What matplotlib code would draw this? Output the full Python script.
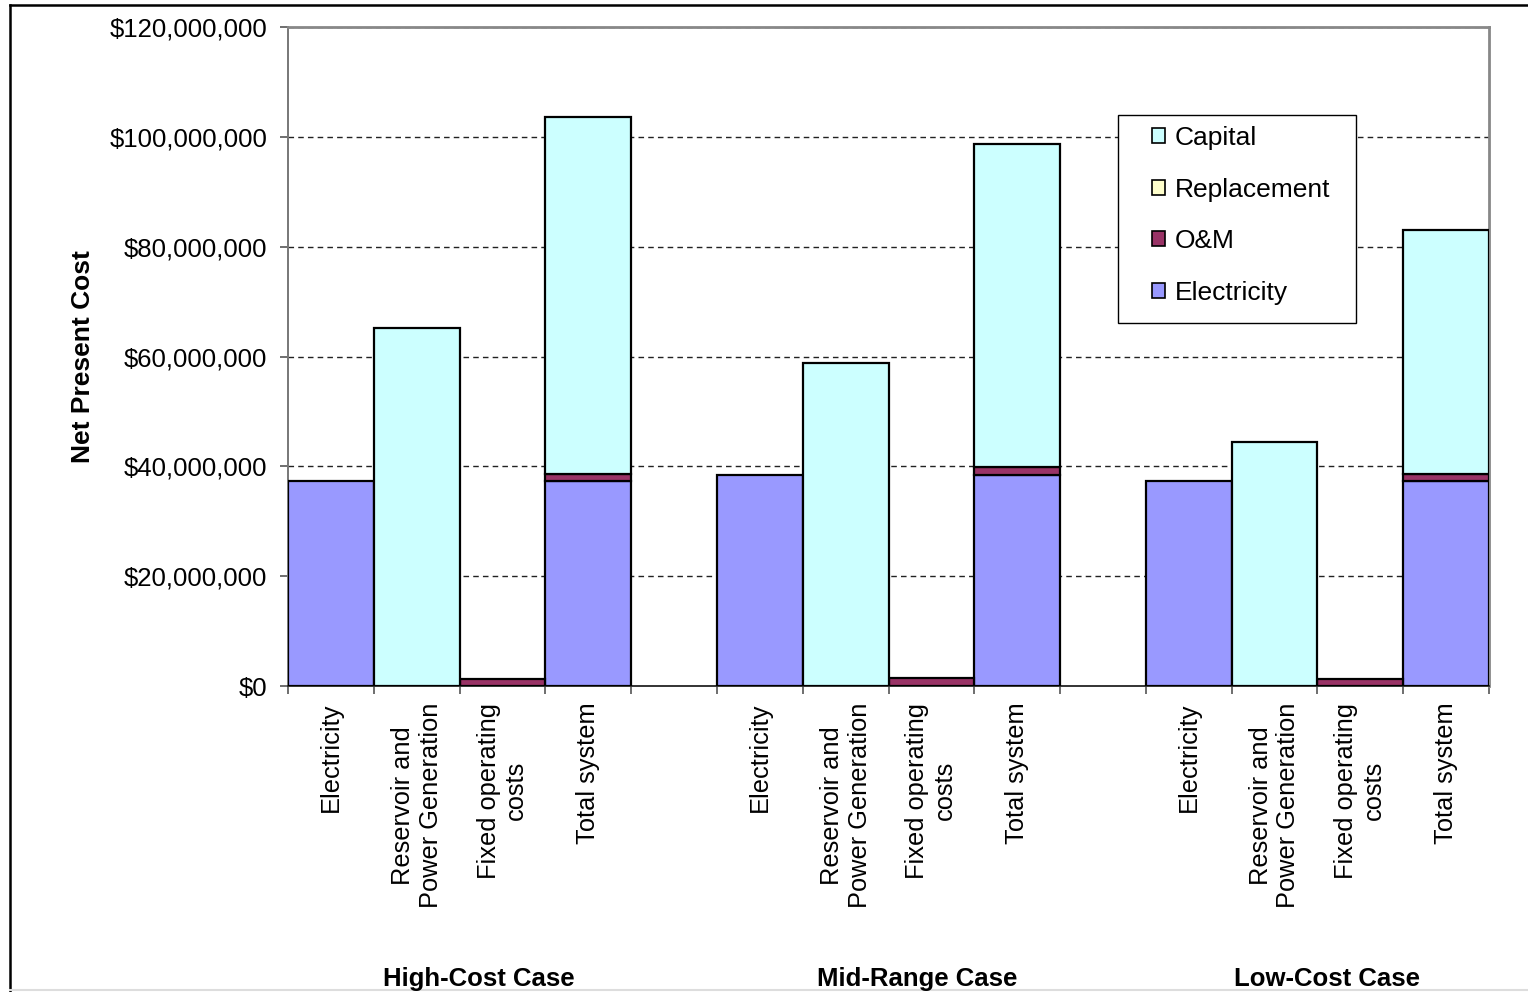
import numpy as np
import matplotlib
matplotlib.use("Agg")
import matplotlib.pyplot as plt
from matplotlib.patches import Patch, Rectangle
from matplotlib.lines import Line2D
from matplotlib.ticker import FuncFormatter, FixedLocator

plt.rcParams['font.family'] = ['Liberation Sans', 'DejaVu Sans']

# net present cost, millions of dollars
cases = ["High-Cost Case", "Mid-Range Case", "Low-Cost Case"]
components = ["Electricity", "Reservoir and\nPower Generation",
              "Fixed operating\ncosts", "Total system"]
electricity = [[37.3, 0, 0, 37.3], [38.4, 0, 0, 38.4], [37.3, 0, 0, 37.3]]
om = [[0, 0, 1.3, 1.3], [0, 0, 1.5, 1.5], [0, 0, 1.3, 1.3]]
replacement = [[0, 0, 0, 0], [0, 0, 0, 0], [0, 0, 0, 0]]
capital = [[0, 65.1, 0, 65.1], [0, 58.8, 0, 58.8], [0, 44.5, 0, 44.5]]

c_elec = '#9999FF'
c_om = '#993366'
c_repl = '#FFFFCC'
c_cap = '#CCFFFF'

fig = plt.figure(figsize=(15.28, 9.92), dpi=100)
ax = fig.add_axes([288/1528, 1 - 686/992, 1201/1528, 659/992])

# one slot per bar, empty slot between cases
xs, labels = [], []
for g in range(len(cases)):
    for k in range(len(components)):
        xs.append(g * 5 + k + 0.5)
        labels.append(components[k])
xs = np.array(xs)

e = np.array(electricity).ravel() * 1e6
o = np.array(om).ravel() * 1e6
r = np.array(replacement).ravel() * 1e6
c = np.array(capital).ravel() * 1e6

kw = dict(width=1.0, edgecolor='black', linewidth=1.6, zorder=3)
ax.bar(xs, e, color=c_elec, **kw)
ax.bar(xs, o, bottom=e, color=c_om, **kw)
ax.bar(xs, r, bottom=e + o, color=c_repl, **kw)
ax.bar(xs, c, bottom=e + o + r, color=c_cap, **kw)
# hide zero-height outlines
for p in ax.patches:
    if p.get_height() == 0:
        p.set_visible(False)

ax.set_xlim(0, 14)
ax.set_ylim(0, 120e6)
ax.yaxis.set_major_locator(FixedLocator(np.arange(0, 120e6 + 1, 20e6)))
ax.yaxis.set_major_formatter(FuncFormatter(lambda v, pos: '${:,.0f}'.format(v)))
ax.grid(axis='y', color='#222222', linestyle=(0, (4, 3)), linewidth=1.0, zorder=0)
ax.set_axisbelow(True)

ax.set_xticks(xs)
ax.set_xticklabels(labels, rotation=90, ha='center', va='top',
                   multialignment='center', fontsize=18.3, linespacing=1.2)
ax.set_xticks(np.arange(0, 15), minor=True)
ax.tick_params(axis='x', which='major', length=0, pad=12)
ax.tick_params(axis='x', which='minor', length=6, width=1.2, color='#555555')
ax.tick_params(axis='y', length=6, width=1.2, color='#555555', pad=9, labelsize=18.5)

for side in ['top', 'right']:
    ax.spines[side].set_color('#888888')
    ax.spines[side].set_linewidth(2)
ax.spines['left'].set_color('#777777')
ax.spines['left'].set_linewidth(1.4)
ax.spines['bottom'].set_color('#333333')
ax.spines['bottom'].set_linewidth(1.4)

ax.set_ylabel("Net Present Cost", fontsize=19, fontweight='bold')
ax.yaxis.set_label_coords(-0.1605, 0.5)

# case names under each group
case_x = [479, 917, 1327]
for name, px in zip(cases, case_x):
    fig.text(px / 1528, 1 - 979 / 992, name,
             ha='center', va='center', fontsize=18.5, fontweight='bold')

# legend frame drawn separately so the padding can be set per side
ax.add_patch(Rectangle((0.6911, 0.5508), 0.8893 - 0.6911, 0.8665 - 0.5508,
                       transform=ax.transAxes, facecolor='white',
                       edgecolor='black', linewidth=1.0, zorder=4,
                       clip_on=False))
handles = [Patch(facecolor=c_cap, edgecolor='black', linewidth=1.2),
           Patch(facecolor=c_repl, edgecolor='black', linewidth=1.2),
           Patch(facecolor=c_om, edgecolor='black', linewidth=1.2),
           Patch(facecolor=c_elec, edgecolor='black', linewidth=1.2)]
leg = ax.legend(handles, ["Capital", "Replacement", "O&M", "Electricity"],
                loc='upper left', bbox_to_anchor=(0.7194, 0.8498),
                fontsize=19, handlelength=0.5, handleheight=0.5,
                handletextpad=0.35, labelspacing=1.045, borderpad=0,
                borderaxespad=0, frameon=False)
leg.set_zorder(5)

# outer chart frame
fig.add_artist(Line2D([10/1528, 1], [1 - 5/992, 1 - 5/992], color='black', lw=1.8))
fig.add_artist(Line2D([10/1528, 10/1528], [0, 1 - 5/992], color='black', lw=1.8))
fig.add_artist(Line2D([10/1528, 1], [2/992, 2/992], color='#dddddd', lw=1.5))

fig.savefig("out.png", dpi=100)
